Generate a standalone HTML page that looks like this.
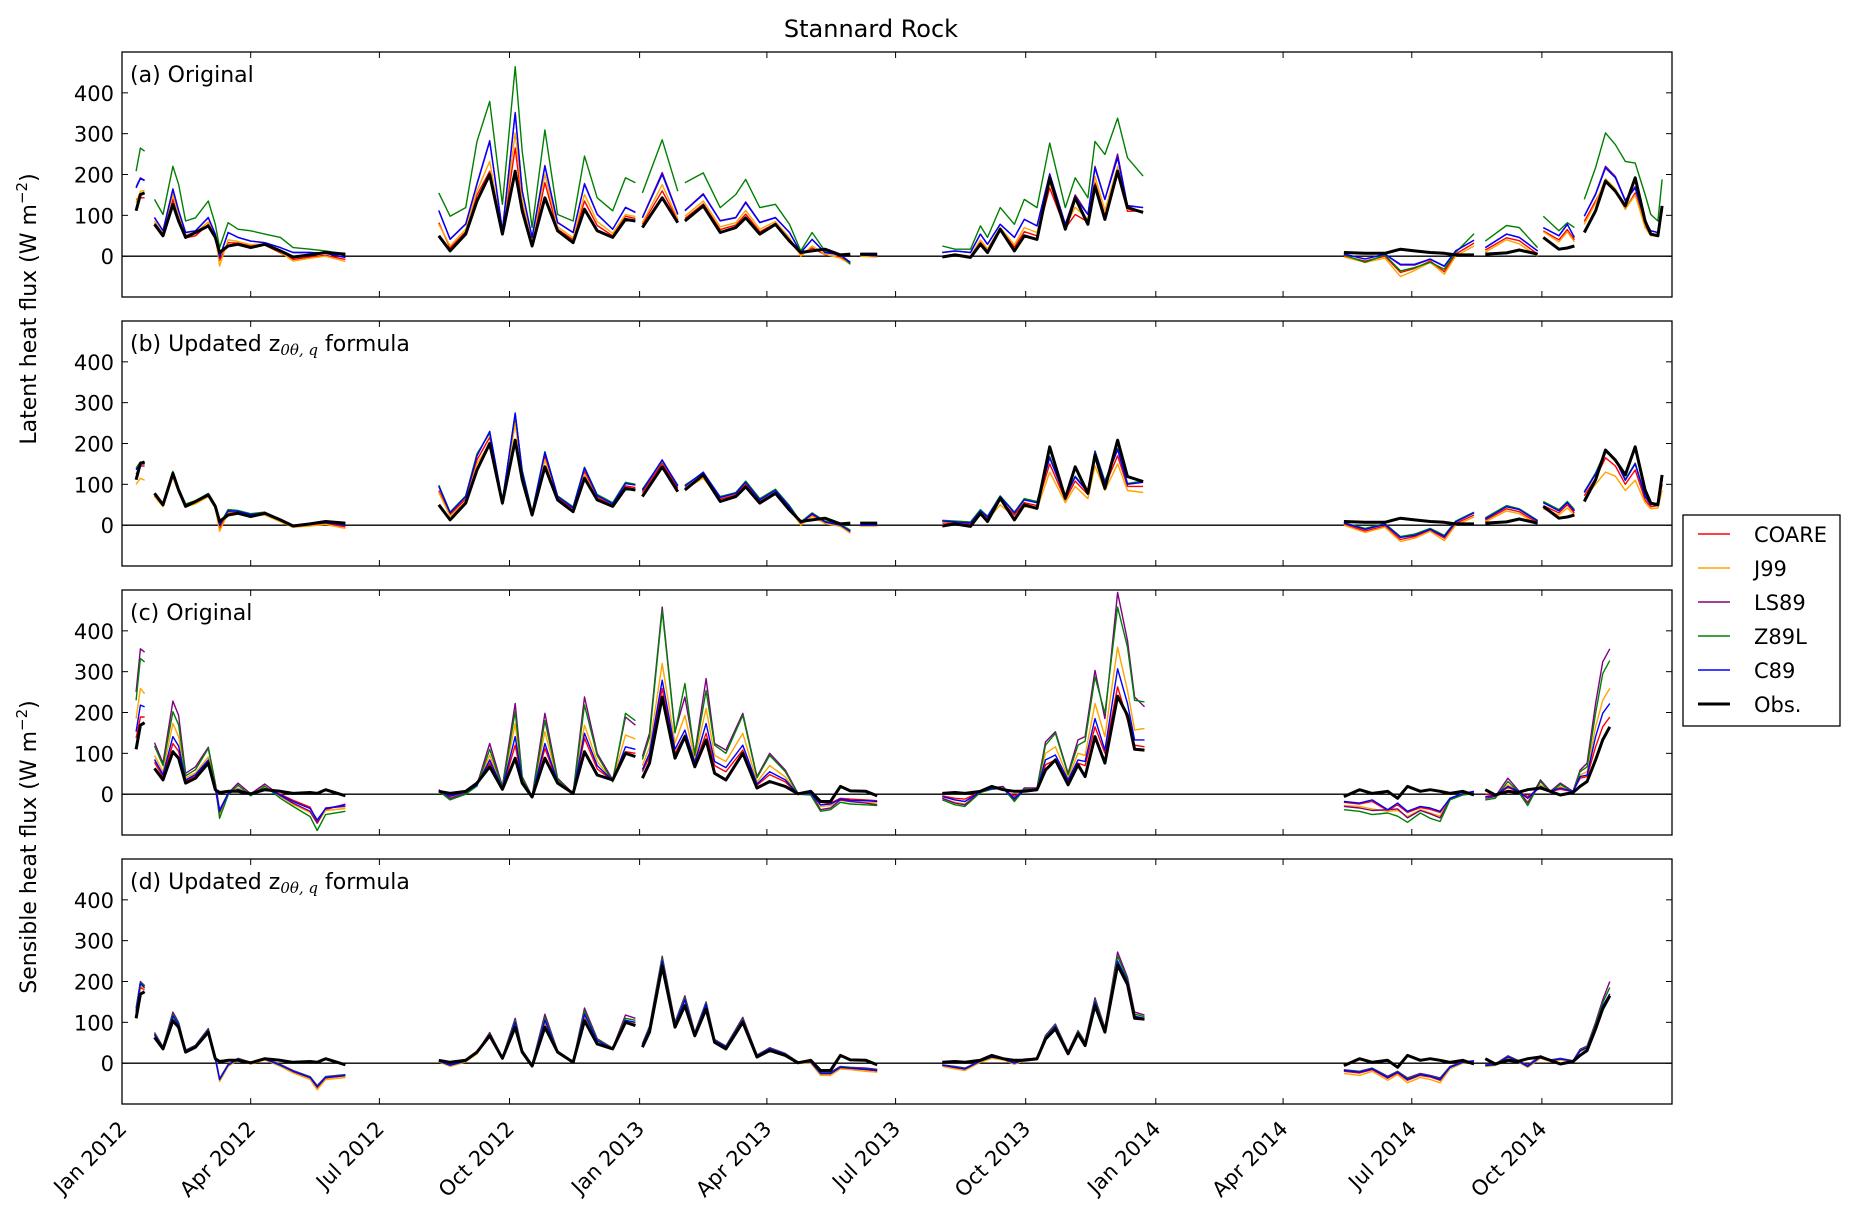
<!DOCTYPE html>
<html><head><meta charset="utf-8"><title>Stannard Rock</title>
<style>
html,body{margin:0;padding:0;background:#fff;}
svg{display:block;font-family:"DejaVu Sans","Liberation Sans",sans-serif;}
</style></head>
<body>
<svg id="fig" xmlns="http://www.w3.org/2000/svg" width="1860" height="1213" viewBox="0 0 1860 1213">
<rect x="0" y="0" width="1860" height="1213" fill="#fff"/>
<text x="871" y="37" font-size="24" text-anchor="middle">Stannard Rock</text>
<text transform="translate(36,309) rotate(-90)" font-size="22" text-anchor="middle">Latent heat flux (W m<tspan font-size="15" dy="-9">−2</tspan><tspan dy="9">)</tspan></text>
<text transform="translate(36,847) rotate(-90)" font-size="22" text-anchor="middle">Sensible heat flux (W m<tspan font-size="15" dy="-9">−2</tspan><tspan dy="9">)</tspan></text>
<g id="panels"></g>
<g id="legend">
<rect x="1683" y="515" width="157" height="211" fill="#fff" stroke="#000" stroke-width="1.3"/>
</g>
</svg>
<script>
// ---------- data ----------
const LEGEND_NAMES = ["COARE","J99","LS89","Z89L","C89","Obs."];
const X_TICK_LABELS = ["Jan 2012","Apr 2012","Jul 2012","Oct 2012","Jan 2013","Apr 2013","Jul 2013","Oct 2013","Jan 2014","Apr 2014","Jul 2014","Oct 2014"];
const X_TICK_DAYS = [0,91,182,274,366,456,547,639,731,821,912,1004,1096];
const Y_TICKS = [0,100,200,300,400];
const PANEL_LABELS = ["(a) Original","(b) Updated","(c) Original","(d) Updated"];

// latent segments (days since 2012-01-01)
const LSEG = [3,18,17,3,13,2,18,9,4,4,10];
const LDAYS = [10,13,16, 23,29,36,40,45,52,61,66,69,75,82,91,101,112,121,133,144,158, 224,232,243,251,260,269,278,283,290,299,308,319,327,336,347,356,363, 368,382,393, 398,411,423,434,441,451,462,472,480,488,497,508,515, 522,534, 580,589,600,607,612,621,631,638,647,656,667,674,683,688,695,704,711,722, 864,879,893,904,914,925,935,943,956, 964,979,988,1001, 1005,1016,1022,1027, 1034,1042,1049,1056,1063,1070,1077,1081,1086,1089];
const L_OBS = [111,151,155, 78,50,127,86,46,58,74,46,9,25,29,21,29,13,-2,3,9,5, 50,13,54,135,200,54,208,111,25,143,62,33,115,62,46,90,86, 70,143,82, 86,123,58,70,94,54,78,37,9,13,17,3,5, 5,5, -2,3,-3,29,9,66,13,50,41,192,66,143,78,172,90,208,119,107, 9,7,7,17,13,9,7,3,3, 5,8,15,5, 46,17,20,25, 58,111,184,159,123,192,86,54,50,123];
// panel a (original latent)
const LA_COARE = [139,143,143, 80,52,139,92,45,50,78,46,-10,33,32,25,27,8,-8,-2,2,-8, 82,20,60,150,208,56,265,125,30,180,66,40,135,75,50,98,92, 78,160,88, 92,128,65,76,103,60,80,40,2,20,4,-3,-16, 2,0, -2,4,-2,34,14,66,22,60,50,167,68,102,84,180,100,200,110,111, 0,-12,0,-40,-30,-12,-38,5,32, 15,45,38,5, 62,40,65,40, 85,135,180,160,115,155,72,52,54,115];
const LA_J99 = [131,159,161, 86,55,151,100,52,58,84,50,-24,40,36,28,30,10,-12,-5,0,-13, 78,25,66,160,232,58,302,138,35,200,72,45,151,85,56,102,97, 82,175,92, 98,135,72,82,112,66,85,45,0,25,5,-5,-20, 0,-2, 0,5,0,40,18,70,28,70,58,180,72,120,90,195,112,220,115,111, -2,-15,-5,-50,-35,-15,-44,0,25, 10,40,30,0, 60,35,60,35, 78,130,190,165,115,150,70,50,52,112];
const LA_LS89 = [170,192,186, 95,62,165,112,58,62,95,54,-3,58,46,37,33,21,9,9,7,-3, 112,42,79,178,283,63,352,160,46,222,83,58,178,103,66,120,108, 95,205,104, 112,153,87,95,133,83,95,58,9,41,9,3,-15, 3,1, 9,13,9,54,29,78,46,90,74,202,78,150,102,220,139,250,124,119, 5,-7,5,-22,-22,-8,-25,13,39, 21,54,46,13, 70,50,78,46, 98,153,220,195,137,170,86,62,58,119];
const LA_Z89L = [208,265,257, 139,102,220,176,86,94,135,78,21,82,66,62,54,46,21,17,13,5, 155,98,119,281,379,127,464,257,70,309,102,86,245,143,111,192,180, 155,285,159, 180,204,119,151,188,119,127,78,13,58,13,5,-20, 5,5, 25,17,17,74,46,119,78,139,119,277,119,192,143,281,249,338,241,196, 3,-15,3,-36,-28,-15,-32,9,55, 37,75,70,21, 98,62,82,70, 139,217,302,273,232,228,151,102,86,188];
const LA_C89 = [167,190,185, 94,62,163,111,58,62,94,54,-3,58,46,37,33,21,9,9,7,-3, 111,41,78,176,281,62,350,159,46,220,82,58,176,102,66,119,107, 94,200,102, 111,151,86,94,131,82,94,58,9,41,9,3,-15, 3,1, 9,13,9,54,29,78,46,90,74,200,78,143,102,216,139,241,123,119, 5,-7,5,-20,-20,-7,-24,13,39, 21,54,46,13, 70,50,78,46, 98,151,216,192,135,167,86,62,58,119];
// panel b (updated latent)
const LB_COARE = [125,145,145, 72,47,122,84,46,54,72,44,-8,32,30,24,27,10,-4,0,4,-4, 85,26,64,160,215,54,262,122,28,170,66,40,132,68,48,96,92, 80,152,90, 90,124,64,74,100,58,80,42,3,25,6,-2,-18, -1,-1, 5,5,2,30,16,62,25,55,48,150,62,108,75,165,96,170,95,95, 2,-14,-2,-35,-28,-12,-32,4,25, 12,40,33,6, 48,30,50,30, 72,115,165,145,100,135,62,45,48,100];
const LB_J99 = [100,115,110, 70,45,118,80,45,52,70,42,-15,30,28,22,25,8,-5,-2,2,-8, 80,22,58,150,200,50,250,112,25,160,60,35,125,65,45,92,88, 75,145,85, 88,115,60,68,95,55,76,40,0,22,4,-3,-20, -2,-2, 0,2,-2,25,12,50,20,45,40,130,55,95,65,145,85,150,85,80, 0,-18,-5,-40,-32,-15,-38,0,20, 8,35,28,2, 40,25,42,25, 65,100,130,120,85,110,55,40,42,85];
const LB_LS89 = [138,152,151, 76,51,130,89,51,59,77,49,1,36,35,27,31,13,-1,3,7,1, 97,31,71,172,228,59,272,132,31,179,71,43,141,73,53,103,99, 86,159,96, 96,129,69,79,106,63,86,46,6,29,9,1,-14, 1,1, 11,9,6,36,21,71,31,63,56,166,69,119,81,181,106,186,101,106, 5,-9,3,-29,-24,-9,-27,9,31, 16,46,39,11, 56,36,56,36, 81,126,181,161,111,151,71,51,53,111];
const LB_Z89L = [140,155,152, 78,52,132,90,52,60,78,50,2,38,36,28,32,14,0,4,8,2, 98,32,72,175,225,60,270,135,32,180,72,45,142,75,55,105,100, 88,158,98, 98,128,70,80,108,65,88,48,8,30,10,2,-12, 2,2, 12,10,8,38,22,72,32,65,58,168,70,120,82,182,108,188,102,108, 6,-8,4,-28,-22,-8,-25,10,32, 18,48,40,12, 58,38,58,38, 82,128,182,162,112,152,72,52,54,112];
const LB_C89 = [135,150,150, 75,50,128,88,50,58,76,48,0,35,34,26,30,12,-2,2,6,0, 95,30,70,170,230,58,275,130,30,178,70,42,140,72,52,102,98, 85,160,95, 95,130,68,78,105,62,85,45,5,28,8,0,-15, 0,0, 10,8,5,35,20,70,30,62,55,165,68,118,80,180,105,185,100,105, 5,-10,2,-30,-25,-10,-28,8,30, 15,45,38,10, 55,35,55,35, 80,125,180,160,110,150,70,50,52,110];

// sensible segments
const SSEG = [3,19,17,21,20,12,14];
const SDAYS = [10,13,16, 23,29,36,40,45,52,61,66,69,75,82,91,101,112,121,133,138,144,158, 224,232,243,251,260,269,278,283,290,299,308,319,327,336,347,356,363, 368,373,382,391,398,405,413,419,427,439,449,458,469,478,487,494,501,508,515,526,534, 580,589,596,607,615,623,631,638,647,653,660,669,676,681,688,695,704,711,716,723, 864,875,884,895,902,909,918,925,932,939,948,956, 964,971,980,987,994,1003,1010,1017,1026,1031,1036,1042,1047,1052];
const S_OBS = [110,169,175, 63,35,104,88,27,39,76,11,4,7,7,1,11,7,2,4,2,11,-4, 7,2,7,27,67,12,88,27,-7,88,27,2,104,47,35,100,92, 39,76,238,88,141,67,133,51,35,100,15,31,19,1,7,-18,-18,19,8,7,-4, 2,4,2,7,19,11,7,7,11,59,84,23,72,43,141,76,240,193,110,108, -6,11,2,7,-10,19,7,11,7,2,7,-2, 11,-2,7,4,11,15,7,-2,4,19,31,84,133,165];
// panel c (original sensible)
const SC_COARE = [137,189,189, 78,42,124,105,32,44,80,13,-48,3,10,0,13,0,-15,-32,-67,-38,-24, 7,-4,5,24,76,13,120,30,-7,112,29,2,137,62,33,104,100, 55,92,259,100,145,72,149,70,55,108,22,48,30,0,2,-26,-22,-10,-12,-14,-16, -4,-10,-12,6,15,12,-5,8,10,72,84,30,76,70,165,100,263,181,120,116, -20,-24,-18,-40,-26,-45,-33,-37,-45,-10,1,6, 0,-2,16,7,-6,16,7,12,6,39,43,116,165,189];
const SC_J99 = [185,259,246, 95,55,173,141,40,52,91,18,-54,0,15,-2,16,-5,-25,-45,-71,-40,-35, 8,-8,4,22,96,15,173,36,-6,153,33,2,169,80,32,145,135, 70,115,320,125,193,85,210,95,80,149,30,70,42,0,0,-30,-28,-15,-18,-20,-22, -10,-20,-24,5,12,15,-12,10,10,100,116,40,100,95,222,141,360,254,157,161, -28,-30,-36,-42,-40,-55,-38,-46,-54,-12,0,4, -8,-5,23,8,-18,23,6,18,6,47,55,165,230,259];
const SC_LS89 = [250,356,348, 126,76,228,193,51,67,115,27,-38,2,27,1,25,-4,-22,-42,-71,-34,-30, 11,-10,2,23,124,19,222,43,-6,198,39,2,238,100,35,189,169, 92,149,458,153,238,100,283,124,108,198,43,100,59,2,2,-38,-34,-14,-18,-22,-26, -10,-22,-26,7,15,19,-14,15,15,128,153,51,133,141,303,185,494,376,238,214, -30,-34,-40,-38,-36,-58,-40,-48,-58,-12,0,4, -10,-6,39,11,-22,35,7,27,7,59,76,222,324,356];
const SC_Z89L = [230,332,324, 118,70,202,170,45,60,112,24,-59,-2,22,-4,20,-10,-30,-55,-89,-50,-42, 8,-14,0,20,110,16,202,40,-8,180,36,0,218,95,30,198,180, 85,140,450,150,271,95,254,120,100,193,40,95,55,0,-2,-42,-38,-20,-24,-26,-28, -14,-26,-30,4,12,15,-18,12,12,120,149,48,120,130,287,198,458,360,230,226, -38,-42,-50,-46,-54,-69,-46,-59,-67,-14,-2,2, -14,-10,31,8,-28,31,4,24,5,55,67,198,295,327];
const SC_C89 = [153,218,214, 85,48,141,118,35,48,84,15,-42,2,12,-1,14,-2,-18,-35,-63,-35,-26, 8,-5,5,22,84,14,141,32,-6,124,30,2,149,70,33,116,110, 60,100,279,110,157,78,173,80,65,120,25,55,35,0,2,-26,-24,-12,-15,-16,-18, -6,-14,-18,6,14,13,-10,9,10,84,96,35,84,80,185,108,307,222,133,133, -18,-22,-14,-38,-22,-42,-30,-34,-42,-10,2,7, -6,-3,19,8,-10,19,7,15,6,43,47,141,198,222];
// panel d (updated sensible)
const SD_COARE = [118,185,180, 68,37,112,93,29,41,79,11,-41,-6,9,-1,9,-6,-21,-36,-60,-36,-31, 4,-6,4,24,69,11,98,29,-6,100,27,1,115,52,34,102,98, 43,82,245,92,150,68,140,53,38,102,16,33,21,1,2,-26,-26,-11,-13,-16,-19, -6,-11,-15,4,14,9,-1,7,9,60,88,24,74,46,148,79,245,197,113,108, -20,-24,-16,-37,-24,-42,-30,-34,-42,-11,1,4, -6,-4,14,5,-8,14,6,9,4,30,37,88,140,168];
const SD_J99 = [120,190,182, 68,36,112,92,28,40,78,10,-45,-8,8,-2,8,-8,-24,-40,-65,-40,-35, 3,-8,3,23,68,10,98,28,-8,102,26,0,118,52,33,102,98, 42,82,245,92,150,66,140,52,36,100,15,32,20,0,0,-30,-30,-14,-16,-20,-22, -8,-14,-18,2,12,8,-3,6,8,60,86,22,72,45,148,78,245,196,112,106, -25,-30,-20,-42,-28,-48,-35,-40,-48,-14,0,3, -8,-6,12,3,-10,12,4,8,3,28,36,86,135,165];
const SD_LS89 = [135,200,190, 75,40,125,100,32,44,85,14,-38,-3,12,2,12,-3,-18,-33,-55,-33,-28, 6,-4,6,27,75,14,110,32,-4,120,30,3,135,60,37,118,110, 48,90,262,100,165,75,150,58,42,112,20,38,24,3,4,-22,-22,-8,-10,-12,-15, -4,-8,-12,6,16,12,2,10,12,68,96,28,80,52,160,86,272,210,125,118, -16,-20,-12,-32,-20,-36,-25,-30,-36,-8,3,6, -4,-2,18,7,-5,18,8,12,6,34,42,100,155,200];
const SD_Z89L = [130,198,188, 72,39,120,98,31,43,82,13,-39,-4,11,1,11,-4,-19,-34,-57,-34,-29, 5,-5,5,26,72,13,105,31,-5,112,29,2,128,58,36,110,105, 46,88,256,98,160,72,148,56,41,108,19,36,23,2,3,-24,-24,-9,-11,-14,-17, -5,-9,-13,5,15,11,1,9,11,65,93,26,78,50,155,83,262,205,120,114, -17,-21,-13,-34,-21,-38,-27,-31,-38,-9,2,5, -5,-3,16,6,-7,16,7,11,5,32,40,95,148,185];
const SD_C89 = [125,195,185, 70,38,115,95,30,42,80,12,-40,-5,10,0,10,-5,-20,-35,-58,-35,-30, 5,-5,5,25,70,12,100,30,-5,105,28,2,120,55,35,105,100, 45,85,250,95,155,70,145,55,40,105,18,35,22,2,3,-25,-25,-10,-12,-15,-18, -5,-10,-14,5,15,10,0,8,10,62,90,25,75,48,150,80,250,200,115,110, -18,-22,-14,-35,-22,-40,-28,-32,-40,-10,2,5, -6,-4,15,5,-8,15,6,10,5,30,38,90,140,170];

// ---------- layout ----------
const NS = "http://www.w3.org/2000/svg";
const X0 = 122, X1 = 1672, DMAX = 1096;
const PTOP = [52,321,590,859], PH = 245, YMIN = -100, YMAX = 500;
const COLORS = ["#ff0000","#ffa500","#800080","#008000","#0000ff","#000000"];
const WIDTHS = [1.4,1.4,1.4,1.4,1.4,3];
function xScale(d){ return X0 + d*(X1-X0)/DMAX; }
function yScale(v, top){ return top + (YMAX - v)/(YMAX-YMIN)*PH; }
function mk(tag, attrs, parent){ const e=document.createElementNS(NS,tag); for(const k in attrs) e.setAttribute(k,attrs[k]); if(parent) parent.appendChild(e); return e; }

const panelsG = document.getElementById('panels');
const PANELS = [
  {days:LDAYS, seg:LSEG, series:[LA_COARE,LA_J99,LA_LS89,LA_Z89L,LA_C89,L_OBS], name:'panel-a-latent-original'},
  {days:LDAYS, seg:LSEG, series:[LB_COARE,LB_J99,LB_LS89,LB_Z89L,LB_C89,L_OBS], name:'panel-b-latent-updated'},
  {days:SDAYS, seg:SSEG, series:[SC_COARE,SC_J99,SC_LS89,SC_Z89L,SC_C89,S_OBS], name:'panel-c-sensible-original'},
  {days:SDAYS, seg:SSEG, series:[SD_COARE,SD_J99,SD_LS89,SD_Z89L,SD_C89,S_OBS], name:'panel-d-sensible-updated'}
];

PANELS.forEach((p, pi) => {
  const top = PTOP[pi];
  const g = mk('g', {}, panelsG);
  
  
  const clipId = 'clip'+pi;
  const cp = mk('clipPath', {id:clipId}, g);
  mk('rect', {x:X0, y:top, width:X1-X0, height:PH}, cp);
  const zl = mk('line', {x1:X0, x2:X1, y1:yScale(0,top), y2:yScale(0,top), stroke:'#000', 'stroke-width':1.3}, g);
  
  
  const sg = mk('g', {'clip-path':'url(#'+clipId+')'}, g);
  p.series.forEach((vals, si) => {
    let idx = 0, d = '';
    p.seg.forEach(n => {
      for (let k=0; k<n; k++) {
        const i = idx + k;
        if (vals[i] === undefined || p.days[i] === undefined) continue;
        d += (k===0?'M':'L') + xScale(p.days[i]).toFixed(1) + ',' + yScale(vals[i], top).toFixed(1);
      }
      idx += n;
    });
    const path = mk('path', {d:d, fill:'none', stroke:COLORS[si], 'stroke-width':WIDTHS[si], 'stroke-linejoin':'round'}, sg);
    
    
  });
  const fr = mk('rect', {x:X0, y:top, width:X1-X0, height:PH, fill:'none', stroke:'#000', 'stroke-width':1.3}, g);
  
  
  Y_TICKS.forEach(v => {
    const y = yScale(v, top);
    mk('line', {x1:X0, x2:X0+6, y1:y, y2:y, stroke:'#000', 'stroke-width':1}, g);
    mk('line', {x1:X1-6, x2:X1, y1:y, y2:y, stroke:'#000', 'stroke-width':1}, g);
    const t = mk('text', {x:X0-8, y:y+8, 'font-size':21, 'text-anchor':'end'}, g);
    t.textContent = String(v);
    
    
  });
  X_TICK_DAYS.forEach(dd => {
    const x = xScale(dd);
    mk('line', {x1:x, x2:x, y1:top, y2:top+6, stroke:'#000', 'stroke-width':1}, g);
    mk('line', {x1:x, x2:x, y1:top+PH-6, y2:top+PH, stroke:'#000', 'stroke-width':1}, g);
  });
  const lab = mk('text', {x:X0+8, y:top+30, 'font-size':22}, g);
  
  
  if (pi===1 || pi===3) {
    lab.appendChild(document.createTextNode(PANEL_LABELS[pi] + ' z'));
    const sub = mk('tspan', {'font-size':15, 'font-family':'"DejaVu Serif","Liberation Serif",serif', 'font-style':'italic', dy:4}, lab);
    sub.textContent = '0θ, q';
    const rest = mk('tspan', {dy:-4}, lab);
    rest.textContent = ' formula';
  } else {
    lab.textContent = PANEL_LABELS[pi];
  }
});

const xl = mk('g', {}, panelsG);


X_TICK_LABELS.forEach((s, i) => {
  const x = xScale(X_TICK_DAYS[i]), y = PTOP[3] + PH + 14;
  const t = mk('text', {x:x+6, y:y+12, 'font-size':21, 'text-anchor':'end', transform:'rotate(-45 '+(x+6)+' '+(y+12)+')'}, xl);
  t.textContent = s;
  
  
});

const lg = document.getElementById('legend');
LEGEND_NAMES.forEach((nm, i) => {
  const y = 534 + i*34;
  const e = mk('g', {}, lg);
  
  
  mk('line', {x1:1698, x2:1730, y1:y, y2:y, stroke:COLORS[i], 'stroke-width':WIDTHS[i]}, e);
  const t = mk('text', {x:1754, y:y+8, 'font-size':21}, e);
  t.textContent = nm;
});
</script>
</body></html>
